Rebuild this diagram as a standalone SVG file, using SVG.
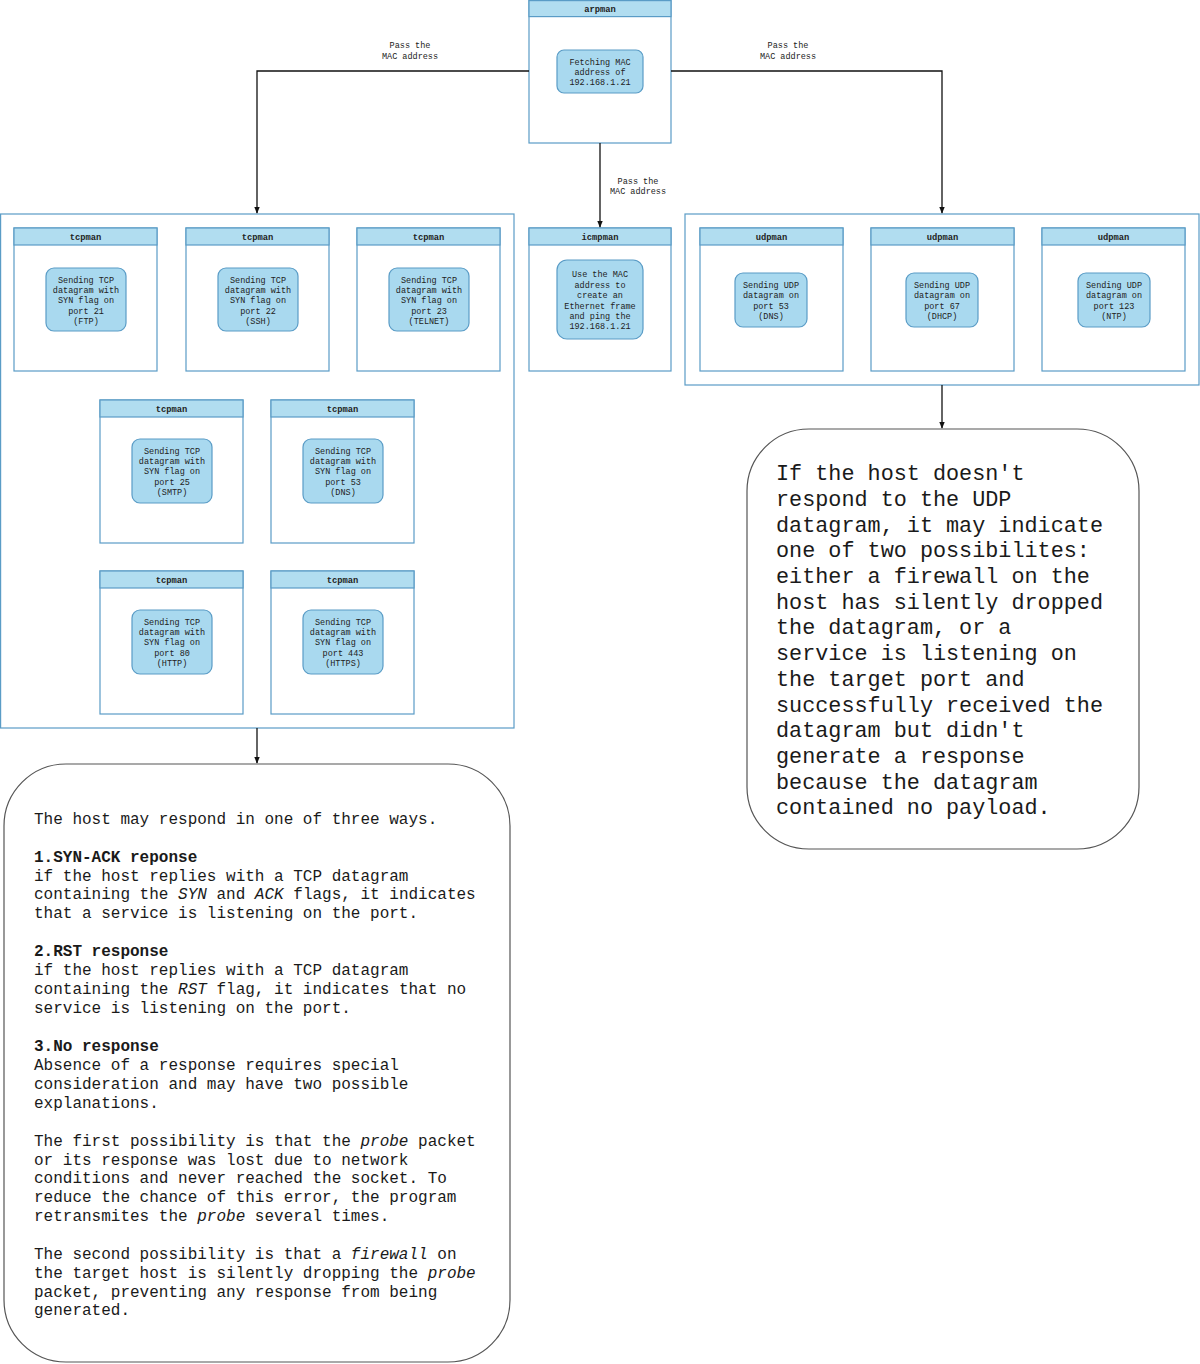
<svg xmlns="http://www.w3.org/2000/svg" width="1200" height="1364" viewBox="0 0 1200 1364">
<style>
.cont{fill:#ffffff;stroke:#5a9cc6;stroke-width:1.2}
.box{fill:#ffffff;stroke:#5a9cc6;stroke-width:1.2}
.hdr{fill:#b1ddf0;stroke:#5a9cc6;stroke-width:1.2}
.inner{fill:#a9d9ef;stroke:#5a9cc6;stroke-width:1.2}
.ht{font-family:"Liberation Mono","DejaVu Sans Mono",monospace;font-size:8.8px;font-weight:bold;fill:#222;text-anchor:middle}
.nt{font-family:"Liberation Mono","DejaVu Sans Mono",monospace;font-size:8.5px;fill:#222;text-anchor:middle}
.lbl{font-family:"Liberation Mono","DejaVu Sans Mono",monospace;font-size:8.5px;fill:#222;text-anchor:middle}
.note{fill:#ffffff;stroke:#555;stroke-width:1.2}
.lt{font-family:"Liberation Mono","DejaVu Sans Mono",monospace;font-size:16px;fill:#1a1a1a}
.rt{font-family:"Liberation Mono","DejaVu Sans Mono",monospace;font-size:21.8px;fill:#1a1a1a}
.edge{fill:none;stroke:#111;stroke-width:1.3}
</style>
<defs>
<marker id="arr" viewBox="0 0 10 10" refX="9" refY="5" markerWidth="7" markerHeight="7" orient="auto" markerUnits="userSpaceOnUse">
<path d="M0,1 L10,5 L0,9 Z" fill="#111"/>
</marker>
</defs>

<g id="tcp-container"><rect class="cont" x="0.6" y="214" width="513.4" height="514"/></g>
<g id="udp-container"><rect class="cont" x="685" y="214" width="514" height="171"/></g>

<g id="arpman">
<rect class="box" x="529" y="0.6" width="142" height="142.4"/>
<rect class="hdr" x="529" y="0.6" width="142" height="16"/>
<text class="ht" x="600" y="11.5">arpman</text>
<rect class="inner" x="557" y="50" width="86" height="43" rx="7"/>
<text class="nt" x="600" y="65">Fetching MAC</text>
<text class="nt" x="600" y="75">address of</text>
<text class="nt" x="600" y="85">192.168.1.21</text>
</g>

<g id="tcpman-21">
<rect class="box" x="14" y="228" width="143" height="143"/>
<rect class="hdr" x="14" y="228" width="143" height="17"/>
<text class="ht" x="85.5" y="239.5">tcpman</text>
<rect class="inner" x="46" y="268" width="80" height="63" rx="8"/>
<text class="nt" x="86" y="283">Sending TCP</text>
<text class="nt" x="86" y="293">datagram with</text>
<text class="nt" x="86" y="303">SYN flag on</text>
<text class="nt" x="86" y="314">port 21</text>
<text class="nt" x="86" y="324">(FTP)</text>
</g>

<g id="tcpman-22">
<rect class="box" x="186" y="228" width="143" height="143"/>
<rect class="hdr" x="186" y="228" width="143" height="17"/>
<text class="ht" x="257.5" y="239.5">tcpman</text>
<rect class="inner" x="218" y="268" width="80" height="63" rx="8"/>
<text class="nt" x="258" y="283">Sending TCP</text>
<text class="nt" x="258" y="293">datagram with</text>
<text class="nt" x="258" y="303">SYN flag on</text>
<text class="nt" x="258" y="314">port 22</text>
<text class="nt" x="258" y="324">(SSH)</text>
</g>

<g id="tcpman-23">
<rect class="box" x="357" y="228" width="143" height="143"/>
<rect class="hdr" x="357" y="228" width="143" height="17"/>
<text class="ht" x="428.5" y="239.5">tcpman</text>
<rect class="inner" x="389" y="268" width="80" height="63" rx="8"/>
<text class="nt" x="429" y="283">Sending TCP</text>
<text class="nt" x="429" y="293">datagram with</text>
<text class="nt" x="429" y="303">SYN flag on</text>
<text class="nt" x="429" y="314">port 23</text>
<text class="nt" x="429" y="324">(TELNET)</text>
</g>

<g id="tcpman-25">
<rect class="box" x="100" y="400" width="143" height="143"/>
<rect class="hdr" x="100" y="400" width="143" height="17"/>
<text class="ht" x="171.5" y="411.5">tcpman</text>
<rect class="inner" x="132" y="439" width="80" height="64" rx="8"/>
<text class="nt" x="172" y="454">Sending TCP</text>
<text class="nt" x="172" y="464">datagram with</text>
<text class="nt" x="172" y="474">SYN flag on</text>
<text class="nt" x="172" y="485">port 25</text>
<text class="nt" x="172" y="495">(SMTP)</text>
</g>

<g id="tcpman-53">
<rect class="box" x="271" y="400" width="143" height="143"/>
<rect class="hdr" x="271" y="400" width="143" height="17"/>
<text class="ht" x="342.5" y="411.5">tcpman</text>
<rect class="inner" x="303" y="439" width="80" height="64" rx="8"/>
<text class="nt" x="343" y="454">Sending TCP</text>
<text class="nt" x="343" y="464">datagram with</text>
<text class="nt" x="343" y="474">SYN flag on</text>
<text class="nt" x="343" y="485">port 53</text>
<text class="nt" x="343" y="495">(DNS)</text>
</g>

<g id="tcpman-80">
<rect class="box" x="100" y="571" width="143" height="143"/>
<rect class="hdr" x="100" y="571" width="143" height="17"/>
<text class="ht" x="171.5" y="582.5">tcpman</text>
<rect class="inner" x="132" y="610" width="80" height="64" rx="8"/>
<text class="nt" x="172" y="625">Sending TCP</text>
<text class="nt" x="172" y="635">datagram with</text>
<text class="nt" x="172" y="645">SYN flag on</text>
<text class="nt" x="172" y="656">port 80</text>
<text class="nt" x="172" y="666">(HTTP)</text>
</g>

<g id="tcpman-443">
<rect class="box" x="271" y="571" width="143" height="143"/>
<rect class="hdr" x="271" y="571" width="143" height="17"/>
<text class="ht" x="342.5" y="582.5">tcpman</text>
<rect class="inner" x="303" y="610" width="80" height="64" rx="8"/>
<text class="nt" x="343" y="625">Sending TCP</text>
<text class="nt" x="343" y="635">datagram with</text>
<text class="nt" x="343" y="645">SYN flag on</text>
<text class="nt" x="343" y="656">port 443</text>
<text class="nt" x="343" y="666">(HTTPS)</text>
</g>

<g id="icmpman">
<rect class="box" x="529" y="228" width="142" height="143"/>
<rect class="hdr" x="529" y="228" width="142" height="17"/>
<text class="ht" x="600" y="239.5">icmpman</text>
<rect class="inner" x="557" y="260" width="86" height="79" rx="10"/>
<text class="nt" x="600" y="277">Use the MAC</text>
<text class="nt" x="600" y="288">address to</text>
<text class="nt" x="600" y="298">create an</text>
<text class="nt" x="600" y="309">Ethernet frame</text>
<text class="nt" x="600" y="319">and ping the</text>
<text class="nt" x="600" y="329">192.168.1.21</text>
</g>

<g id="udpman-53">
<rect class="box" x="700" y="228" width="143" height="143"/>
<rect class="hdr" x="700" y="228" width="143" height="17"/>
<text class="ht" x="771.5" y="239.5">udpman</text>
<rect class="inner" x="735" y="273" width="72" height="54" rx="8"/>
<text class="nt" x="771" y="288">Sending UDP</text>
<text class="nt" x="771" y="298">datagram on</text>
<text class="nt" x="771" y="309">port 53</text>
<text class="nt" x="771" y="319">(DNS)</text>
</g>

<g id="udpman-67">
<rect class="box" x="871" y="228" width="143" height="143"/>
<rect class="hdr" x="871" y="228" width="143" height="17"/>
<text class="ht" x="942.5" y="239.5">udpman</text>
<rect class="inner" x="906" y="273" width="72" height="54" rx="8"/>
<text class="nt" x="942" y="288">Sending UDP</text>
<text class="nt" x="942" y="298">datagram on</text>
<text class="nt" x="942" y="309">port 67</text>
<text class="nt" x="942" y="319">(DHCP)</text>
</g>

<g id="udpman-123">
<rect class="box" x="1042" y="228" width="143" height="143"/>
<rect class="hdr" x="1042" y="228" width="143" height="17"/>
<text class="ht" x="1113.5" y="239.5">udpman</text>
<rect class="inner" x="1078" y="273" width="72" height="54" rx="8"/>
<text class="nt" x="1114" y="288">Sending UDP</text>
<text class="nt" x="1114" y="298">datagram on</text>
<text class="nt" x="1114" y="309">port 123</text>
<text class="nt" x="1114" y="319">(NTP)</text>
</g>

<g id="connectors">
<path class="edge" d="M529,71 H257 V213" marker-end="url(#arr)"/>
<path class="edge" d="M671,71 H942 V213" marker-end="url(#arr)"/>
<path class="edge" d="M600,143 V227" marker-end="url(#arr)"/>
<path class="edge" d="M257,728 V763" marker-end="url(#arr)"/>
<path class="edge" d="M942,385 V428" marker-end="url(#arr)"/>
<text class="lbl" x="410" y="48">Pass the</text>
<text class="lbl" x="410" y="59">MAC address</text>
<text class="lbl" x="788" y="48">Pass the</text>
<text class="lbl" x="788" y="59">MAC address</text>
<text class="lbl" x="638" y="184">Pass the</text>
<text class="lbl" x="638" y="194">MAC address</text>
</g>

<g id="tcp-note">
<rect class="note" x="4" y="764" width="506" height="598" rx="62"/>
<text class="lt" x="34" y="824">The host may respond in one of three ways.</text>
<text class="lt" x="34" y="862" font-weight="bold">1.SYN-ACK reponse</text>
<text class="lt" x="34" y="881">if the host replies with a TCP datagram</text>
<text class="lt" x="34" y="899">containing the <tspan font-style="italic">SYN</tspan> and <tspan font-style="italic">ACK</tspan> flags, it indicates</text>
<text class="lt" x="34" y="918">that a service is listening on the port.</text>
<text class="lt" x="34" y="956" font-weight="bold">2.RST response</text>
<text class="lt" x="34" y="975">if the host replies with a TCP datagram</text>
<text class="lt" x="34" y="994">containing the <tspan font-style="italic">RST</tspan> flag, it indicates that no</text>
<text class="lt" x="34" y="1013">service is listening on the port.</text>
<text class="lt" x="34" y="1051" font-weight="bold">3.No response</text>
<text class="lt" x="34" y="1070">Absence of a response requires special</text>
<text class="lt" x="34" y="1089">consideration and may have two possible</text>
<text class="lt" x="34" y="1108">explanations.</text>
<text class="lt" x="34" y="1146">The first possibility is that the <tspan font-style="italic">probe</tspan> packet</text>
<text class="lt" x="34" y="1165">or its response was lost due to network</text>
<text class="lt" x="34" y="1183">conditions and never reached the socket. To</text>
<text class="lt" x="34" y="1202">reduce the chance of this error, the program</text>
<text class="lt" x="34" y="1221">retransmites the <tspan font-style="italic">probe</tspan> several times.</text>
<text class="lt" x="34" y="1259">The second possibility is that a <tspan font-style="italic">firewall</tspan> on</text>
<text class="lt" x="34" y="1278">the target host is silently dropping the <tspan font-style="italic">probe</tspan></text>
<text class="lt" x="34" y="1297">packet, preventing any response from being</text>
<text class="lt" x="34" y="1315">generated.</text>
</g>

<g id="udp-note">
<rect class="note" x="747" y="429" width="392" height="420" rx="62"/>
<text class="rt" x="776" y="480">If the host doesn't</text>
<text class="rt" x="776" y="506">respond to the UDP</text>
<text class="rt" x="776" y="532">datagram, it may indicate</text>
<text class="rt" x="776" y="557">one of two possibilites:</text>
<text class="rt" x="776" y="583">either a firewall on the</text>
<text class="rt" x="776" y="609">host has silently dropped</text>
<text class="rt" x="776" y="634">the datagram, or a</text>
<text class="rt" x="776" y="660">service is listening on</text>
<text class="rt" x="776" y="686">the target port and</text>
<text class="rt" x="776" y="712">successfully received the</text>
<text class="rt" x="776" y="737">datagram but didn't</text>
<text class="rt" x="776" y="763">generate a response</text>
<text class="rt" x="776" y="789">because the datagram</text>
<text class="rt" x="776" y="814">contained no payload.</text>
</g>
</svg>
